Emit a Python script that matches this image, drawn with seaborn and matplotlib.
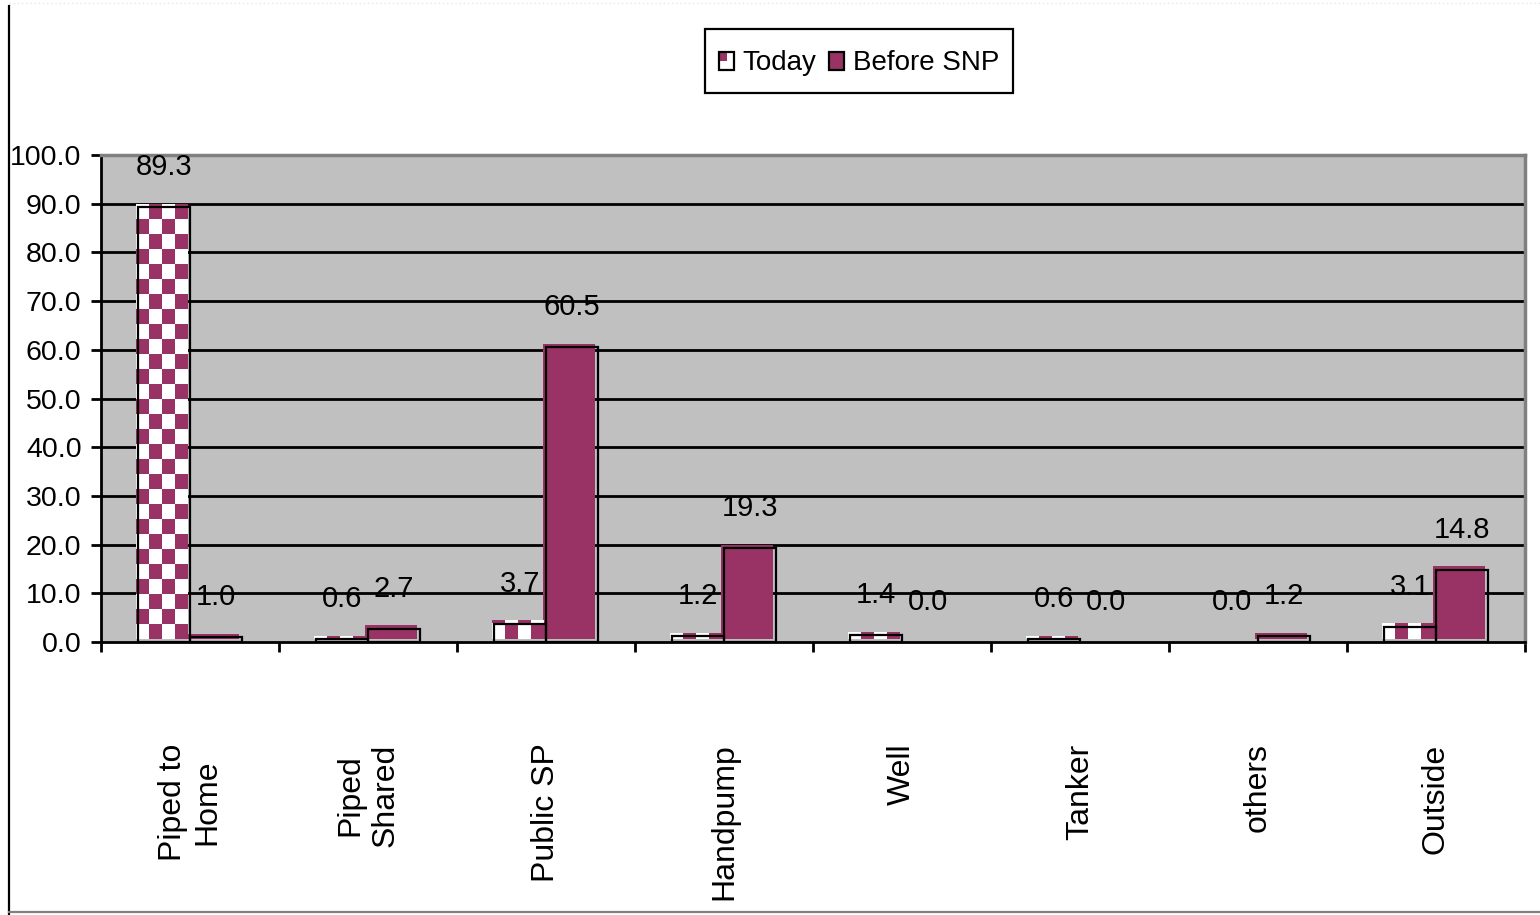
import numpy as np
import pandas as pd
import matplotlib
matplotlib.use("Agg")
import matplotlib.pyplot as plt
import seaborn as sns
from matplotlib.patches import Rectangle, Patch
from matplotlib.lines import Line2D
from matplotlib.colors import ListedColormap
from matplotlib.transforms import ScaledTranslation
from matplotlib.legend_handler import HandlerBase

plt.rcParams["font.family"] = ["Liberation Sans", "DejaVu Sans"]

# ---- data -------------------------------------------------------------
categories = ["Piped to\nHome", "Piped\nShared", "Public SP", "Handpump",
              "Well", "Tanker", "others", "Outside"]
today = [89.3, 0.6, 3.7, 1.2, 1.4, 0.6, 0.0, 3.1]
before_snp = [1.0, 2.7, 60.5, 19.3, 0.0, 0.0, 1.2, 14.8]
series_names = ["Today", "Before SNP"]
y_ticks = [0, 10, 20, 30, 40, 50, 60, 70, 80, 90, 100]

PLUM = "#993366"
PLOT_BG = "#C0C0C0"

df = pd.DataFrame({
    "category": categories * 2,
    "series": [series_names[0]] * len(categories) + [series_names[1]] * len(categories),
    "value": today + before_snp,
})

fig = plt.figure(figsize=(15.4, 9.15), dpi=100)
ax = fig.add_axes([101 / 1540, 1 - 642 / 915, 1424 / 1540, 487 / 915])
ax.set_facecolor(PLOT_BG)

sns.barplot(data=df, x="category", y="value", hue="series",
            order=categories, hue_order=series_names,
            palette={"Today": "white", "Before SNP": PLUM},
            width=0.58, gap=0, saturation=1, errorbar=None,
            legend=False, linewidth=0, ax=ax, zorder=2)

ax.set_xlim(-0.5, len(categories) - 0.5)
ax.set_ylim(0, 100)

# fills sit slightly up-left of their black outlines
fill_shift = ax.transData + ScaledTranslation(-2.5 / 100, 3.5 / 100, fig.dpi_scale_trans)

px_per_unit = (ax.transData.transform((0, 1)) - ax.transData.transform((0, 0)))[1]
square_h = 15 / px_per_unit
checker_cmap = ListedColormap(["white", PLUM])

for ci, container in enumerate(ax.containers):
    for p in container.patches:
        x0, w, h = p.get_x(), p.get_width(), p.get_height()
        if h <= 0:
            continue
        p.set_transform(fill_shift)
        if ci == 0:
            nrows = int(np.ceil(h / square_h)) + 1
            ncols = 4
            arr = np.add.outer(np.arange(nrows), np.arange(ncols)) % 2
            im = ax.imshow(arr, extent=(x0, x0 + w, 0, nrows * square_h),
                           origin="lower", cmap=checker_cmap, vmin=0, vmax=1,
                           interpolation="nearest", aspect="auto", zorder=2.1)
            im.set_transform(fill_shift)
            im.set_clip_path(p)
        ax.add_patch(Rectangle((x0, 0), w, h, fill=False, edgecolor="black",
                               linewidth=1.6, zorder=2.5))

ax.set_xlim(-0.5, len(categories) - 0.5)
ax.set_ylim(0, 100)

# value labels
for ci, (container, vals) in enumerate(zip(ax.containers, [today, before_snp])):
    for p, v in zip(container.patches, vals):
        ax.annotate(f"{v:.1f}", (p.get_x() + p.get_width() / 2, v),
                    xytext=(0, 29), textcoords="offset points",
                    ha="center", va="center", fontsize=21, zorder=5)

# axes styling
ax.set_yticks(y_ticks)
ax.set_yticklabels([f"{t:.1f}" for t in y_ticks], fontsize=20.5)
ax.set_axisbelow(True)
for t in y_ticks[1:-1]:
    ax.axhline(t, color="black", linewidth=2, zorder=1)

ax.set_xticks(range(len(categories)))
ax.set_xticklabels(categories, rotation=90, va="top", ha="center",
                   multialignment="center", fontsize=23)
ax.set_xticks(np.arange(-0.5, len(categories), 1), minor=True)
ax.tick_params(axis="x", which="major", length=0, pad=73)
ax.tick_params(axis="x", which="minor", length=7, width=2, direction="out")
ax.tick_params(axis="y", length=7, width=2, direction="out", pad=7)
ax.set_xlabel("")
ax.set_ylabel("")

for side in ("left", "bottom"):
    ax.spines[side].set_color("black")
    ax.spines[side].set_linewidth(2)
for side in ("top", "right"):
    ax.spines[side].set_color("#808080")
    ax.spines[side].set_linewidth(2.5)


class SquareHandler(HandlerBase):
    """Small legend swatch: solid square, or a checker square for 'Today'."""

    def __init__(self, face, checker=False, w=11.0, h=13.5):
        super().__init__()
        self.face, self.checker, self.w, self.h = face, checker, w, h

    def create_artists(self, legend, orig_handle, xdescent, ydescent,
                       width, height, fontsize, trans):
        x0 = -xdescent + (width - self.w) / 2
        y0 = -ydescent + (height - self.h) / 2
        arts = []
        if self.checker:
            arts.append(Rectangle((x0, y0), self.w, self.h, facecolor="white",
                                  edgecolor="none", transform=trans))
            arts.append(Rectangle((x0, y0 + self.h / 2), self.w / 2, self.h / 2,
                                  facecolor=self.face, edgecolor="none",
                                  transform=trans))
        else:
            arts.append(Rectangle((x0, y0), self.w, self.h, facecolor=self.face,
                                  edgecolor="none", transform=trans))
        arts.append(Rectangle((x0, y0), self.w, self.h, fill=False,
                              edgecolor="black", linewidth=1.6, transform=trans))
        return arts


today_handle = Patch(facecolor="white")
before_handle = Patch(facecolor=PLUM)
leg = fig.legend([today_handle, before_handle], series_names,
                 handler_map={today_handle: SquareHandler(PLUM, checker=True),
                              before_handle: SquareHandler(PLUM)},
                 loc="center", bbox_to_anchor=(859 / 1540, 1 - 61 / 915),
                 ncol=2, fontsize=20, frameon=True, fancybox=False,
                 framealpha=1, edgecolor="black",
                 handlelength=0.55, handleheight=1.6, handletextpad=0.3,
                 columnspacing=0.45, borderpad=0.5, borderaxespad=0)
leg.get_frame().set_linewidth(1.6)

# chart border
fig.add_artist(Line2D([9 / 1540, 9 / 1540], [0, 1 - 6 / 915],
                      transform=fig.transFigure, color="black", linewidth=1.6))
fig.add_artist(Line2D([9 / 1540, 1], [1 - 912 / 915, 1 - 912 / 915],
                      transform=fig.transFigure, color="#808080", linewidth=1.6))
fig.add_artist(Line2D([9 / 1540, 1], [1 - 3 / 915, 1 - 3 / 915],
                      transform=fig.transFigure, color="#e6e6e6",
                      linewidth=1, linestyle=(0, (1, 2))))

fig.savefig("out.png", dpi=100)
